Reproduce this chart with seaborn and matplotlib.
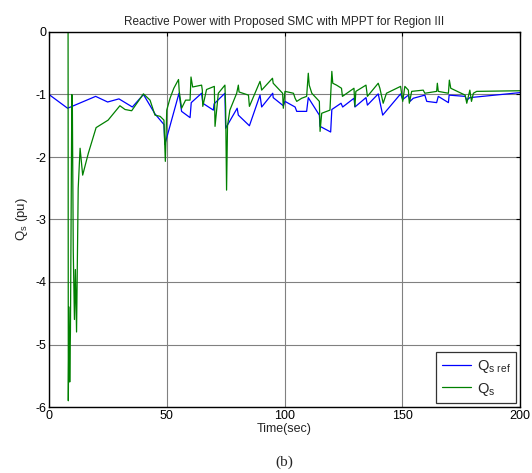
import matplotlib
matplotlib.use("Agg")
import matplotlib.pyplot as plt
import seaborn as sns
import pandas as pd

# ---- data ----
t_ref = [0, 7.9, 19.8, 24.9, 29.7, 35.4, 40.1, 45.0, 48.8, 49.2, 55.2, 56.3, 59.9, 60.4,
         64.8, 65.3, 69.8, 70.1, 74.7, 75.0, 79.9, 80.4, 85.1, 89.6, 90.3, 95.0, 95.2,
         99.5, 100.2, 104.5, 105.2, 109.4, 110.1, 114.8, 115.1, 119.6, 120.1, 124.0,
         124.7, 129.5, 129.9, 134.6, 135.2, 139.8, 141.7, 149.3, 150.2, 152.6, 153.3,
         154.7, 159.6, 160.4, 164.6, 165.3, 169.6, 169.9, 176.7, 177.4, 178.7, 200]
q_ref = [-1.00, -1.22, -1.03, -1.12, -1.07, -1.20, -1.00, -1.31, -1.48, -1.80, -0.98, -1.27,
         -1.37, -1.13, -0.98, -1.14, -1.25, -1.15, -0.98, -1.54, -1.22, -1.33, -1.50, -1.01,
         -1.20, -0.98, -1.05, -1.18, -1.11, -1.20, -1.27, -1.27, -1.05, -1.33, -1.51, -1.60,
         -1.24, -1.14, -1.20, -1.06, -1.20, -1.05, -1.17, -0.99, -1.33, -0.99, -1.08, -1.01,
         -1.11, -1.06, -1.01, -1.11, -1.13, -1.03, -1.13, -1.01, -1.03, -1.09, -1.05, -0.97]

t_qs = [0, 8.1, 8.2, 8.5, 8.8, 9.1, 9.7, 9.9, 10.3, 10.8, 11.2, 11.7, 12.4, 13.2, 14.3,
        16.7, 20.0, 25.1, 30.1, 32.3, 35.1, 40.1, 42.9, 45.0, 47.2, 48.8, 49.4, 50.0,
        51.4, 53.0, 55.0, 55.3, 56.3, 58.0, 59.9, 60.3, 61.0, 64.8, 65.1, 65.3, 66.9,
        70.2, 70.5, 71.9, 74.7, 75.0, 75.4, 75.8, 76.8, 79.7, 80.4, 80.7, 84.7, 85.1,
        89.6, 90.0, 90.3, 94.9, 95.2, 99.2, 99.5, 100.2, 103.8, 104.5, 105.2, 107.3,
        109.4, 110.1, 110.5, 111.6, 114.8, 115.1, 115.8, 119.3, 120.1, 120.5, 122.1,
        124.2, 124.6, 129.5, 129.9, 130.3, 134.6, 135.2, 139.8, 140.5, 141.9, 143.3,
        149.3, 150.2, 151.1, 152.6, 153.0, 154.0, 158.9, 159.6, 164.6, 164.9, 165.3,
        169.6, 170.0, 170.6, 176.7, 177.4, 178.7, 179.4, 180.2, 181.6, 200]
q_qs = [0, 0, -5.9, -4.4, -5.6, -4.8, -1.0, -1.05, -3.5, -4.6, -3.8, -4.8, -2.5, -1.86, -2.29,
        -1.94, -1.53, -1.41, -1.18, -1.24, -1.26, -0.99, -1.09, -1.33, -1.35, -1.41, -2.07, -1.25,
        -1.06, -0.90, -0.76, -0.95, -1.22, -1.09, -1.09, -0.72, -0.88, -0.85, -0.93, -1.19, -0.92,
        -0.87, -1.51, -0.98, -0.85, -1.20, -2.53, -1.50, -1.25, -0.98, -0.85, -0.96, -1.01, -1.19,
        -0.79, -0.86, -0.93, -0.74, -0.82, -0.98, -1.22, -0.95, -0.98, -1.06, -1.11, -1.06,
        -1.03, -0.66, -0.85, -0.98, -1.11, -1.59, -1.30, -1.25, -0.63, -0.82, -0.85,
        -0.90, -1.03, -0.90, -1.19, -0.95, -0.85, -1.03, -0.82, -0.90, -1.14, -0.98,
        -0.87, -1.11, -0.87, -0.93, -1.14, -0.95, -0.93, -0.98, -0.95, -0.82, -0.95,
        -0.98, -0.77, -0.90, -1.01, -1.14, -0.93, -1.11, -0.98, -0.95, -0.94]

series_names = ["Q$_\\mathregular{s\\ ref}$", "Q$_\\mathregular{s}$"]
series_colors = ["#0000FF", "#008000"]
x_ticks = [0, 50, 100, 150, 200]
y_ticks = [0, -1, -2, -3, -4, -5, -6]

title = "Reactive Power with Proposed SMC with MPPT for Region III"
xlabel = "Time(sec)"
ylabel = "Q$_\\mathregular{s}$ (pu)"
caption = "(b)"

df = pd.concat([
    pd.DataFrame({"t": t_ref, "q": q_ref, "series": series_names[0]}),
    pd.DataFrame({"t": t_qs, "q": q_qs, "series": series_names[1]}),
], ignore_index=True)

sns.set_style("white")
plt.rcParams["font.family"] = ["Liberation Sans", "DejaVu Sans"]
plt.rcParams["mathtext.fontset"] = "custom"
plt.rcParams["mathtext.rm"] = "Liberation Sans"

fig = plt.figure(figsize=(5.32, 4.73), dpi=100)
ax = fig.add_axes([49 / 532, 1 - 407 / 473, (520 - 49) / 532, (407 - 32) / 473])

sns.lineplot(data=df, x="t", y="q", hue="series", palette=dict(zip(series_names, series_colors)),
             estimator=None, sort=False, units="series", linewidth=0.9, ax=ax, legend=True)

ax.set_xlim(0, 200)
ax.set_ylim(-6, 0)
ax.set_xticks(x_ticks)
ax.set_yticks(y_ticks)
ax.set_xticklabels([str(v) for v in x_ticks], fontsize=9)
ax.set_yticklabels([str(v) for v in y_ticks], fontsize=9)
ax.grid(True, color="#808080", linewidth=0.8)
ax.set_axisbelow(True)
ax.tick_params(direction="in", top=True, right=True, length=3, width=0.8, colors="black", pad=2)
for s in ax.spines.values():
    s.set_color("black")
    s.set_linewidth(1.0)

ax.set_title(title, fontsize=8.5, pad=5)
ax.set_xlabel(xlabel, fontsize=9, labelpad=1)
ax.set_ylabel(ylabel, fontsize=9.5, labelpad=4)

leg = ax.legend(loc="lower right", fontsize=10.5, frameon=True, fancybox=False, edgecolor="black",
                borderaxespad=0.25, handlelength=2.0, handletextpad=0.4, labelspacing=0.4,
                borderpad=0.4)
leg.get_frame().set_linewidth(0.9)

fig.text(0.5 * (49 + 520) / 532, 1 - 462 / 473, caption, ha="center", va="center",
         fontsize=11, family=["Liberation Serif", "DejaVu Serif"])

fig.savefig("out.png", dpi=100)
